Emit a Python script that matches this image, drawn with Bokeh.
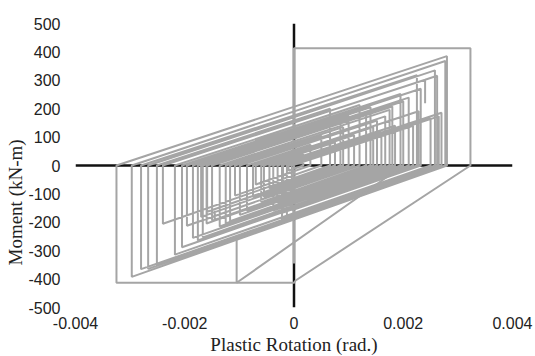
from bokeh.plotting import figure
from bokeh.models import Range1d, FixedTicker, Span, Title
from bokeh.embed import file_html
from bokeh.resources import INLINE

# ---- data (plastic rotation in rad, moment in kN-m) ----
x_ticks = [-0.004, -0.002, 0, 0.002, 0.004]
x_tick_labels = ["-0.004", "-0.002", "0", "0.002", "0.004"]
y_ticks = [-500, -400, -300, -200, -100, 0, 100, 200, 300, 400, 500]
y_tick_labels = ["-500", "-400", "-300", "-200", "-100", "0", "100", "200", "300", "400", "500"]

# main hysteresis path (turning points, in order)
rotation = [
    0.0, 0.0, 0.00323, 0.00323, 0.00003, 0.0, -0.00325, -0.00325,
    0.00280, 0.00280, -0.00297, -0.00297,
    0.00277, 0.00277, -0.00267, -0.00267,
    0.00258, 0.00258, -0.00022, -0.00022,
    0.00270, 0.00270, -0.00251, -0.00251,
    0.00066, 0.00066, -0.00240, -0.00240,
    0.00240, 0.00240, 0.00240, 0.00262, 0.00262, -0.00013, -0.00013,
    0.00250, 0.00250, -0.00218, -0.00218,
    0.00120, 0.00120, -0.00196, -0.00196,
    0.00232, 0.00232, -0.00004, -0.00004,
    0.00218, 0.00218, -0.00176, -0.00176,
    0.00100, 0.00100, -0.00170, -0.00170,
    0.00210, 0.00210, -0.00167, -0.00167,
    0.00085, 0.00085, -0.00159, -0.00159,
    0.00200, 0.00200, -0.00038, -0.00038,
    0.00185, 0.00185, -0.00136, -0.00136,
    0.00175, 0.00175, -0.00117, -0.00117,
    0.00050, 0.00050, -0.00108, -0.00108,
    0.00167, 0.00167, -0.00030, -0.00030,
    0.00160, 0.00160, -0.00099, -0.00099,
    0.00152, 0.00152, -0.00086, -0.00086,
    0.00030, 0.00030, -0.00070, -0.00070,
    0.00145, 0.00145, -0.00145, -0.00145, -0.00145, -0.00160, -0.00160,
    0.00132, 0.00132, -0.00060, -0.00060,
    0.00110, 0.00110, -0.00055, -0.00055,
    0.00075, 0.00075, -0.00045, -0.00045,
    0.00017, 0.00017, -0.00010, -0.00010,
    0.00265, 0.00265, -0.00280, -0.00280,
    0.00225, 0.00225, -0.00205, -0.00205,
    0.00195, 0.00195, -0.00185, -0.00185,
    0.00140, 0.00140, -0.00150, -0.00150,
    0.00180, 0.00180, -0.00125, -0.00125,
    0.00090, 0.00090, -0.00075, -0.00075,
    0.00228, 0.00228, -0.00020, -0.00020,
]
moment = [
    -345, 413, 413, 0, -405, -413, -413, 0,
    385, 0, -392, 0,
    368, 0, -364, 0,
    335, 0, -190, 0,
    186, 0, -352, 0,
    200, 0, -205, 0,
    302, 219, 302, 316, 0, -184, 0,
    166, 0, -314, 0,
    213, 0, -212, 0,
    270, 0, -158, 0,
    140, 0, -264, 0,
    174, 0, -181, 0,
    239, 0, -253, 0,
    159, 0, -163, 0,
    226, 0, -159, 0,
    140, 0, -215, 0,
    196, 0, -196, 0,
    105, 0, -106, 0,
    173, 0, -132, 0,
    120, 0, -174, 0,
    158, 0, -159, 0,
    73, 0, -67, 0,
    135, 0, -194, -159, -194, -204, 0,
    184, 0, -129, 0,
    107, 0, -111, 0,
    82, 0, -80, 0,
    39, 0, -18, 0,
    173, 0, -365, 0,
    318, 0, -288, 0,
    252, 0, -255, 0,
    205, 0, -194, 0,
    208, 0, -204, 0,
    135, 0, -111, 0,
    191, 0, -166, 0,
]

# secondary branch
rotation_b = [-0.00105, -0.00105, 0.00200]
moment_b = [-258, -413, 0]

# ---- figure ----
p = figure(width=535, height=356, output_backend="svg", toolbar_location=None,
           x_range=Range1d(-0.004, 0.004), y_range=Range1d(-500, 500),
           min_border_left=75, min_border_right=23, min_border_top=23, min_border_bottom=49)
p.outline_line_color = None
p.background_fill_color = "white"
p.border_fill_color = "white"
p.xgrid.visible = False
p.ygrid.visible = False

p.add_layout(Span(location=0, dimension="width", line_color="#111111", line_width=2.5, level="underlay"))
p.add_layout(Span(location=0, dimension="height", line_color="#111111", line_width=2.5, level="underlay"))

p.line(rotation, moment, line_color="#A5A5A5", line_width=2)
p.line(rotation_b, moment_b, line_color="#A5A5A5", line_width=2)

for ax in (p.xaxis[0], p.yaxis[0]):
    ax.axis_line_color = None
    ax.major_tick_line_color = None
    ax.minor_tick_line_color = None
    ax.major_tick_out = 0
    ax.major_tick_in = 0
    ax.minor_tick_out = 0
    ax.major_label_text_font = "Liberation Sans"
    ax.major_label_text_font_size = "16px"
    ax.major_label_text_color = "#222222"

p.xaxis[0].ticker = FixedTicker(ticks=x_ticks)
p.yaxis[0].ticker = FixedTicker(ticks=y_ticks)
p.xaxis[0].major_label_overrides = {t: s for t, s in zip(x_ticks, x_tick_labels)}
p.yaxis[0].major_label_overrides = {t: s for t, s in zip(y_ticks, y_tick_labels)}
p.xaxis[0].major_label_standoff = 9
p.yaxis[0].major_label_standoff = 15

p.add_layout(Title(text="Plastic Rotation (rad.)", align="center", standoff=0,
                   text_font="Liberation Serif", text_font_size="19px",
                   text_font_style="normal", text_color="#222222"), "below")
p.add_layout(Title(text="Moment (kN-m)", align="left", offset=42, standoff=0,
                   text_font="Liberation Serif", text_font_size="19px",
                   text_font_style="normal", text_color="#222222"), "left")

open("out.html", "w").write(file_html(p, INLINE))
